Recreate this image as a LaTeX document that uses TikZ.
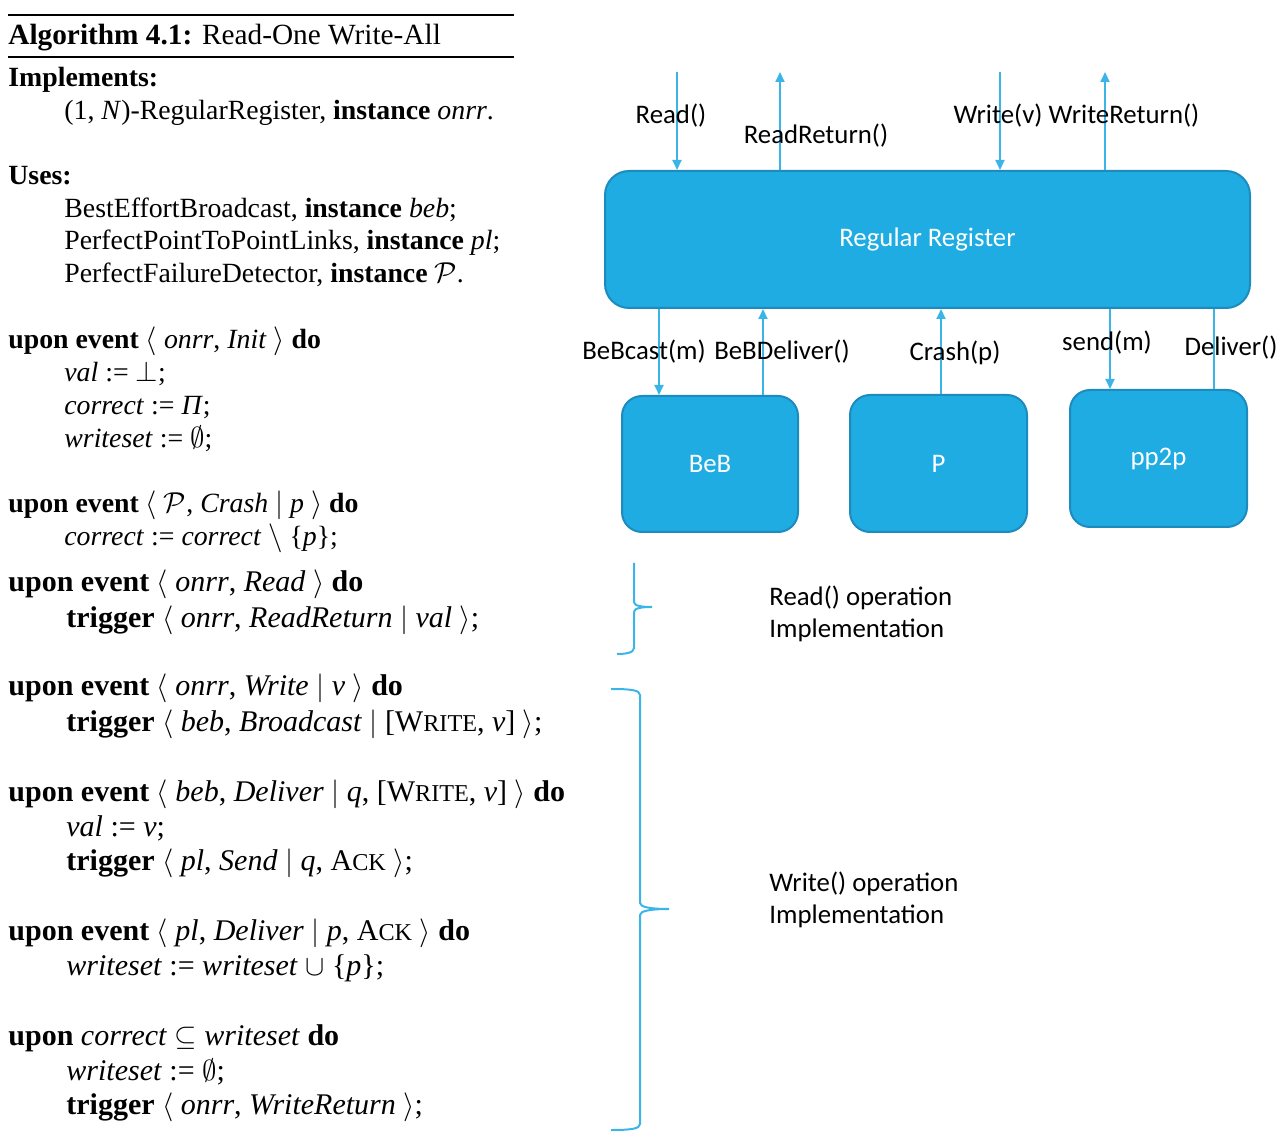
\documentclass[tikz,border=0pt]{standalone}
\usepackage{fontspec}
\setmainfont{Liberation Serif}
\newfontfamily\calibri{Carlito}
\usetikzlibrary{arrows.meta}
\definecolor{regblue}{HTML}{1EACE2}
\definecolor{regedge}{HTML}{1E8BBE}
\definecolor{wirecol}{HTML}{3BB5E8}
\newcommand{\smc}[2]{#1\begingroup\fontsize{12.1}{12}\selectfont #2\endgroup}
\newcommand{\ue}{\textbf{upon event}}

\begin{document}
\begin{tikzpicture}[x=0.5pt,y=-0.5pt,
	module/.style={draw=regedge, line width=1pt, fill=regblue, text=white, font=\calibri\fontsize{13.4}{15}\selectfont},
	wire/.style={draw=wirecol, line width=1pt},
	call/.style={wire, -{Triangle[length=5pt,width=4.5pt]}},
	lbl/.style={inner sep=0pt, font=\calibri\fontsize{13.4}{16}\selectfont},
	alg/.style={anchor=base west, inner sep=0pt, font=\fontsize{13.9}{16}\selectfont},
	algb/.style={alg, font=\fontsize{15}{17}\selectfont}]
	\useasboundingbox (0,0) rectangle (1285,1138);

	\draw[line width=1.2pt] (8,15) -- (514,15);
	\draw[line width=0.7pt] (8,57) -- (514,57);
	\node[alg, font=\fontsize{14.65}{17}\selectfont] (title) at (8,45) {\textbf{Algorithm 4.1:} Read-One Write-All};
	\node[alg] (impl) at (8,87) {\textbf{Implements:}};
	\node[alg] (impl1) at (64,120) {(1, \textit{N})-RegularRegister, \textbf{instance} \textit{onrr}.};
	\node[alg] (uses) at (8,185) {\textbf{Uses:}};
	\node[alg] (uses1) at (64,218) {BestEffortBroadcast, \textbf{instance} \textit{beb};};
	\node[alg] (uses2) at (64,250) {PerfectPointToPointLinks, \textbf{instance} \textit{pl};};
	\node[alg] (uses3) at (64,283) {PerfectFailureDetector, \textbf{instance} $\mathcal{P}$.};
	\node[alg] (init) at (8,349) {\ue{} $\langle$ \textit{onrr}, \textit{Init} $\rangle$ \textbf{do}};
	\node[alg] (init1) at (64,382) {\textit{val} := $\bot$;};
	\node[alg] (init2) at (64,415) {\textit{correct} := \textit{Π};};
	\node[alg] (init3) at (64,448) {\textit{writeset} := $\emptyset$;};
	\node[alg] (crash) at (8,513) {\ue{} $\langle$ $\mathcal{P}$, \textit{Crash} $|$ \textit{p} $\rangle$ \textbf{do}};
	\node[alg] (crash1) at (64,546) {\textit{correct} := \textit{correct} $\setminus$ \{\textit{p}\};};
	\node[algb] (read) at (8,592) {\ue{} $\langle$ \textit{onrr}, \textit{Read} $\rangle$ \textbf{do}};
	\node[algb] (read1) at (66,628) {\textbf{trigger} $\langle$ \textit{onrr}, \textit{ReadReturn} $|$ \textit{val} $\rangle$;};
	\node[algb] (write) at (8,696) {\ue{} $\langle$ \textit{onrr}, \textit{Write} $|$ \textit{v} $\rangle$ \textbf{do}};
	\node[algb] (write1) at (66,731) {\textbf{trigger} $\langle$ \textit{beb}, \textit{Broadcast} $|$ [\smc{W}{RITE}, \textit{v}] $\rangle$;};
	\node[algb] (bdel) at (8,801) {\ue{} $\langle$ \textit{beb}, \textit{Deliver} $|$ \textit{q}, [\smc{W}{RITE}, \textit{v}] $\rangle$ \textbf{do}};
	\node[algb] (bdel1) at (66,836) {\textit{val} := \textit{v};};
	\node[algb] (bdel2) at (66,870) {\textbf{trigger} $\langle$ \textit{pl}, \textit{Send} $|$ \textit{q}, \smc{A}{CK} $\rangle$;};
	\node[algb] (pdel) at (8,940) {\ue{} $\langle$ \textit{pl}, \textit{Deliver} $|$ \textit{p}, \smc{A}{CK} $\rangle$ \textbf{do}};
	\node[algb] (pdel1) at (66,975) {\textit{writeset} := \textit{writeset} $\cup$ \{\textit{p}\};};
	\node[algb] (done) at (8,1045) {\textbf{upon} \textit{correct} $\subseteq$ \textit{writeset} \textbf{do}};
	\node[algb] (done1) at (66,1080) {\textit{writeset} := $\emptyset$;};
	\node[algb] (done2) at (66,1114) {\textbf{trigger} $\langle$ \textit{onrr}, \textit{WriteReturn} $\rangle$;};

	\node[module, rounded corners=12pt, minimum width=322.5pt, minimum height=68.5pt] (reg) at (927.5,239.5) {Regular Register};
	\node[module, rounded corners=10pt, minimum width=88pt, minimum height=68pt] (beb) at (710,464) {BeB};
	\node[module, rounded corners=10pt, minimum width=88.5pt, minimum height=68.5pt] (pfd) at (938.5,463.5) {P};
	\node[module, rounded corners=10pt, minimum width=88.5pt, minimum height=68.5pt] (pl) at (1158.5,458.5) {pp2p};

	\coordinate (rdin) at (677,72);
	\coordinate (rdout) at (780,72);
	\coordinate (wrin) at (1000,72);
	\coordinate (wrout) at (1105,72);
	\draw[call] (rdin) -- (rdin |- reg.north);
	\draw[call] (rdout |- reg.north) -- (rdout);
	\draw[call] (wrin) -- (wrin |- reg.north);
	\draw[call] (wrout |- reg.north) -- (wrout);
	\draw[call] (reg.south -| 659,0) -- (beb.north -| 659,0);
	\draw[call] (beb.north -| 763,0) -- (reg.south -| 763,0);
	\draw[call] (pfd.north -| 941,0) -- (reg.south -| 941,0);
	\draw[call] (reg.south -| 1110,0) -- (pl.north -| 1110,0);
	\draw[wire] (pl.north -| 1214,0) -- (reg.south -| 1214,0);

	\node[lbl] (lread) at (671,116) {Read()};
	\node[lbl] (lrret) at (816,136) {ReadReturn()};
	\node[lbl] (lwrite) at (998,116) {Write(v)};
	\node[lbl] (lwret) at (1124,116) {WriteReturn()};
	\node[lbl] (lbcast) at (644,352) {BeBcast(m)};
	\node[lbl] (lbdel) at (782,352) {BeBDeliver()};
	\node[lbl] (lcrash) at (955,353) {Crash(p)};
	\node[lbl] (lsend) at (1107,343) {send(m)};
	\node[lbl] (ldel) at (1231,348) {Deliver()};

	\draw[wire] (634,563) -- (634,602) .. controls (634,606) and (642,607) .. (652,607) .. controls (642,607) and (634,608) .. (634,612) -- (634,648) .. controls (634,653) and (625,654) .. (617,654);
	\draw[wire] (611,689) .. controls (630,689) and (640,690) .. (640,695) -- (640,903) .. controls (640,907) and (650,909) .. (669,909) .. controls (650,909) and (640,911) .. (640,915) -- (640,1124) .. controls (640,1129) and (630,1130) .. (611,1130);
	\node[lbl, anchor=west, align=left] (rdimpl) at (769,614) {Read() operation\\Implementation};
	\node[lbl, anchor=west, align=left] (wrimpl) at (769,899.5) {Write() operation\\Implementation};
\end{tikzpicture}
\end{document}
